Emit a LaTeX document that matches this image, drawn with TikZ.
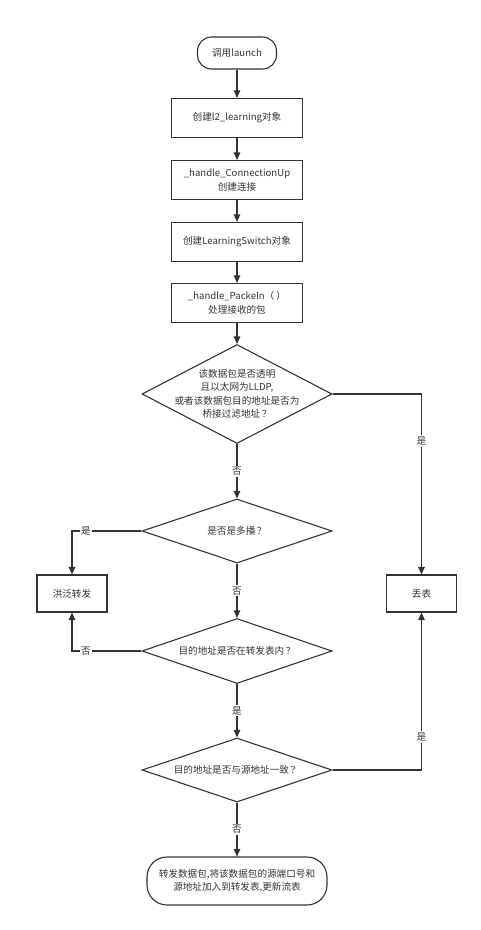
\documentclass[tikz,border=0pt]{standalone}
\usepackage{fontspec}
\setmainfont{Noto Sans CJK SC}
\usetikzlibrary{shapes.geometric,arrows.meta}
\definecolor{ln}{HTML}{333333}
\definecolor{tx}{HTML}{333333}
\tikzset{
  base/.style={draw=ln, line width=1.1pt, text=tx, font=\fontsize{9.6}{13.5}\selectfont, align=center, inner sep=0pt},
  proc/.style={base, rectangle, minimum width=131pt, minimum height=39pt},
  small/.style={base, rectangle, minimum width=70pt, minimum height=37pt},
  term/.style={base, rectangle, rounded corners=14pt},
  dia/.style={base, diamond, minimum width=190pt},
  dtext/.style={text=tx, font=\fontsize{9.6}{13.5}\selectfont, align=center, inner sep=0pt},
  arr/.style={draw=ln, line width=1.1pt, -{Triangle[length=7.5pt,width=6.5pt]}},
  lab/.style={fill=white, text=tx, font=\fontsize{9.6}{11}\selectfont, inner sep=1.5pt}
}
\begin{document}
\begin{tikzpicture}[x=1pt,y=-1pt]
\useasboundingbox (0,0) rectangle (480,930);
\node[term, minimum width=79pt, minimum height=32pt] (start) at (237,53) {调用launch};
\node[proc] (b2) at (237,118) {创建l2\_learning对象};
\node[proc] (b3) at (237,180) {\_handle\_ConnectionUp\\创建连接};
\node[proc] (b4) at (237,242) {创建LearningSwitch对象};
\node[proc] (b5) at (237,303) {\_handle\_PackeIn（ ）\\处理接收的包};
\node[dia, minimum height=99pt, label={[dtext]center:{该数据包是否透明\\且以太网为LLDP,\\或者该数据包目的地址是否为\\桥接过滤地址\,？}}] (d1) at (237,394) {};
\node[dia, minimum height=64pt, label={[dtext]center:{是否是多播\,？}}] (d2) at (237,531) {};
\node[dia, minimum height=65pt, label={[dtext]center:{目的地址是否在转发表内\,？}}] (d3) at (237,651) {};
\node[dia, minimum height=64pt, label={[dtext]center:{目的地址是否与源地址一致\,？}}] (d4) at (237,770) {};
\node[small] (flood) at (72,593.5) {洪泛转发};
\node[small] (drop) at (421.5,593.5) {丢表};
\node[term, rounded corners=20pt, minimum width=180pt, minimum height=48pt] (end) at (237,881) {转发数据包,将该数据包的源端口号和\\源地址加入到转发表,更新流表};

\draw[arr] (start) -- (b2);
\draw[arr] (b2) -- (b3);
\draw[arr] (b3) -- (b4);
\draw[arr] (b4) -- (b5);
\draw[arr] (b5) -- (d1);
\draw[arr] (d1.south) -- node[lab] {否} (d2.north);
\draw[arr] (d1.east) -| node[lab, pos=0.63] {是} (drop.north);
\draw[arr] (d2.west) -| node[lab, pos=0.40] {是} (flood.north);
\draw[arr] (d2.south) -- node[lab] {否} (d3.north);
\draw[arr] (d3.west) -| node[lab, pos=0.40] {否} (flood.south);
\draw[arr] (d3.south) -- node[lab] {是} (d4.north);
\draw[arr] (d4.east) -| node[lab, pos=0.605] {是} (drop.south);
\draw[arr] (d4.south) -- node[lab] {否} (end.north);
\end{tikzpicture}
\end{document}
